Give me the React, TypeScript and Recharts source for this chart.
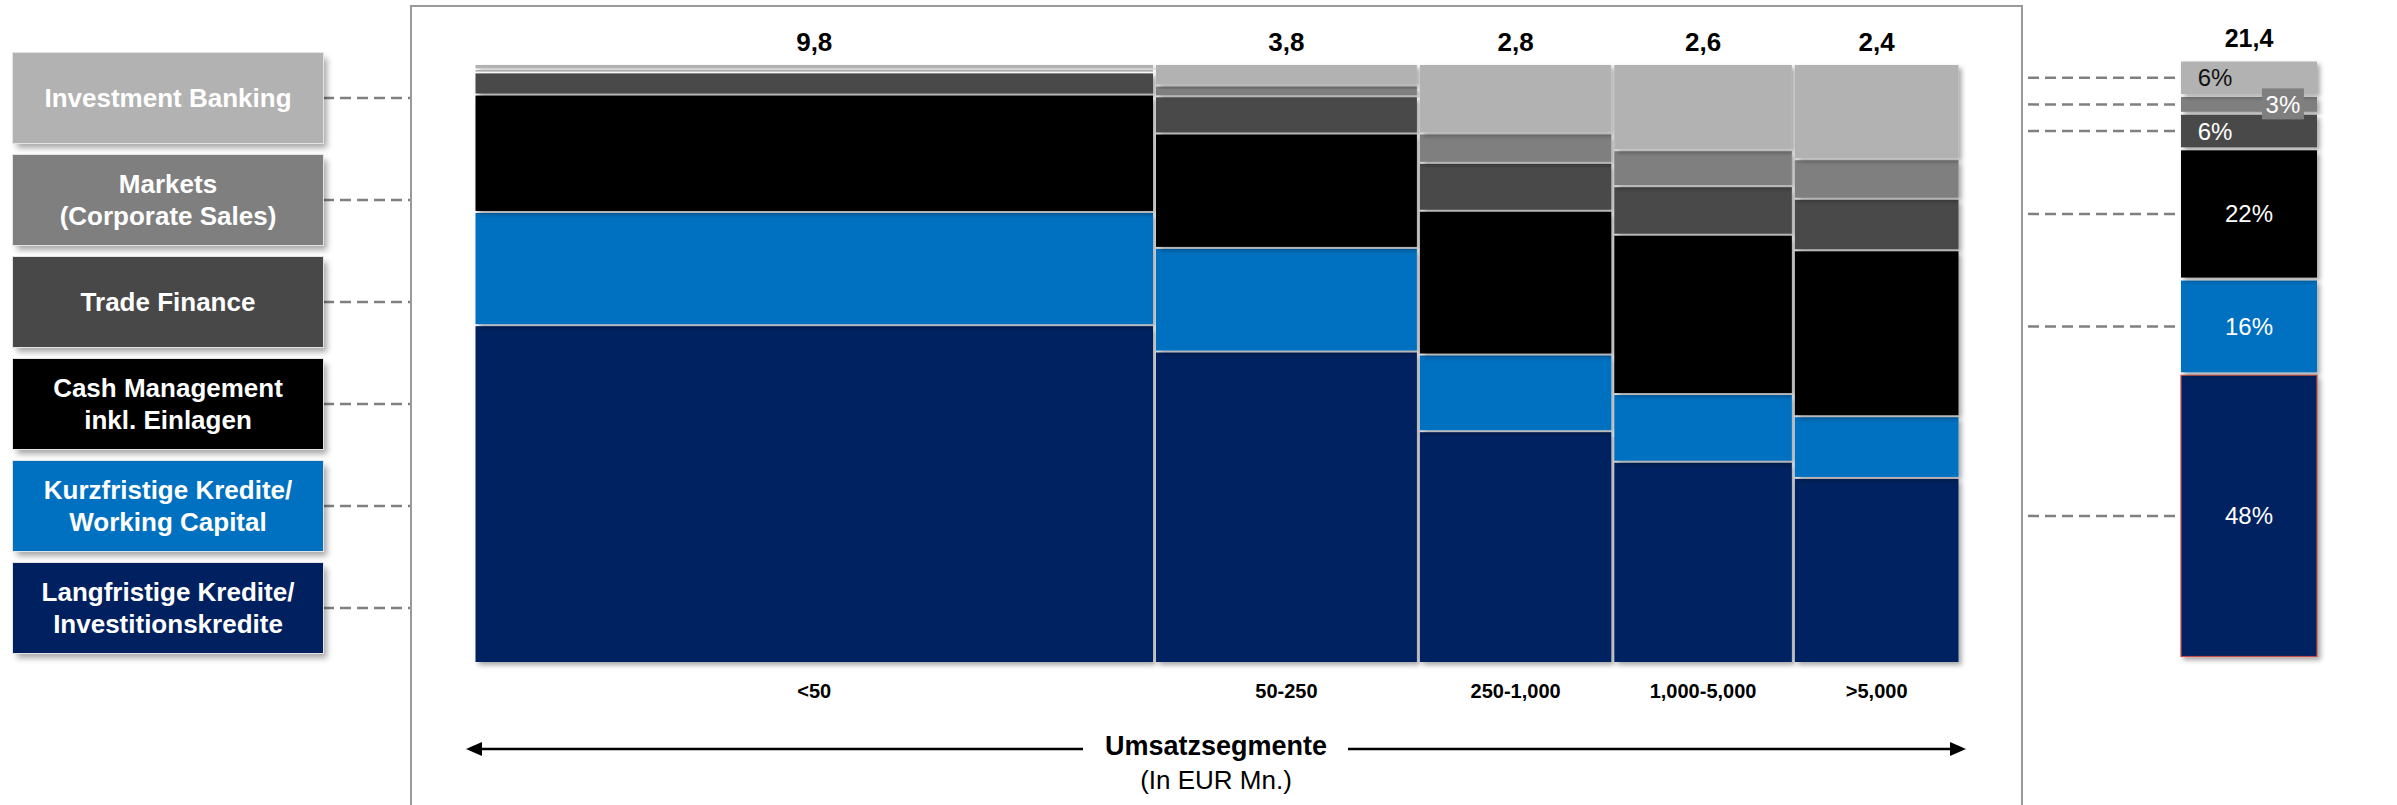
import React from 'react';
import {
  ComposedChart,
  BarChart,
  Bar,
  Line,
  XAxis,
  YAxis,
  ReferenceArea,
  LabelList,
} from 'recharts';

const FONT = '"Liberation Sans", Arial, Helvetica, sans-serif';

// Geschäftsfelder, von unten nach oben gestapelt
const segmentKeys = ['lk', 'kk', 'cm', 'tf', 'mk', 'ib'];
const segmentNames = [
  ['Langfristige Kredite/', 'Investitionskredite'],
  ['Kurzfristige Kredite/', 'Working Capital'],
  ['Cash Management', 'inkl. Einlagen'],
  ['Trade Finance'],
  ['Markets', '(Corporate Sales)'],
  ['Investment Banking'],
];
const segmentColors = ['#002060', '#0070C0', '#000000', '#484848', '#7F7F7F', '#B2B2B2'];

// Umsatzsegmente (in EUR Mn.) und Ertragsvolumen je Segment
const categories = ['<50', '50-250', '250-1,000', '1,000-5,000', '>5,000'];
const columnTotals = [9.8, 3.8, 2.8, 2.6, 2.4];

// Anteile je Geschäftsfeld in % des Segments
const shareLangfristig = [56.4, 52.0, 38.7, 33.6, 30.9];
const shareKurzfristig = [18.9, 17.3, 12.8, 11.3, 10.3];
const shareCashManagement = [19.6, 19.1, 24.0, 26.6, 27.7];
const shareTradeFinance = [3.7, 6.2, 8.0, 8.1, 8.6];
const shareMarkets = [0.5, 1.8, 4.9, 6.0, 6.6];
const shareInvestmentBanking = [0.9, 3.6, 11.6, 14.4, 15.9];
const segmentShares = [
  shareLangfristig,
  shareKurzfristig,
  shareCashManagement,
  shareTradeFinance,
  shareMarkets,
  shareInvestmentBanking,
];

// Gesamtbetrachtung
const grandTotal = 21.4;
const totalShares = [48, 16, 22, 6, 3, 6];

const fmt = (v: number) => v.toFixed(1).replace('.', ',');

// column layout on a value axis: each column is as wide as its volume
const columns = categories.map((name, i) => {
  const start = columnTotals.slice(0, i).reduce((a, b) => a + b, 0);
  return { name, start, end: start + columnTotals[i], mid: start + columnTotals[i] / 2, total: columnTotals[i], full: 100 };
});

const tiles = columns.flatMap((col, ci) => {
  let acc = 0;
  return segmentShares.map((shares, si) => {
    const y1 = acc;
    acc += shares[ci];
    return { key: `${ci}-${si}`, x1: col.start, x2: col.end, y1, y2: acc, fill: segmentColors[si], top: si === segmentShares.length - 1, col };
  });
});

const totalRow = [
  Object.fromEntries([['name', 'Gesamt'], ...segmentKeys.map((k, i) => [k, totalShares[i]])]),
];

const tileShape = (p: any) => {
  const { x, y, width, height, fill } = p;
  return (
    <rect
      x={x + 1.5}
      y={y + 1}
      width={Math.max(width - 3, 0)}
      height={Math.max(height - 2, 0)}
      fill={fill}
      filter="url(#tileShadow)"
    />
  );
};

const totalBarShape = (si: number) => (p: any) => {
  const { x, y, width, height, fill } = p;
  return (
    <rect
      x={x}
      y={y + 1.5}
      width={width}
      height={Math.max(height - 3, 0)}
      fill={fill}
      stroke={si === 0 ? '#C0504D' : 'none'}
      strokeWidth={si === 0 ? 1.2 : 0}
      filter="url(#tileShadow)"
    />
  );
};

const totalLabel = (si: number) => (p: any) => {
  const { x, y, width, height, value } = p;
  const cy = y + height / 2;
  const connector = (
    <line x1={x - 153} x2={x - 2} y1={cy} y2={cy} stroke="#808080" strokeWidth={2.5} strokeDasharray="11 6" />
  );
  const txt = `${value}%`;
  if (si === 5) {
    return (
      <g>
        {connector}
        <text x={x + width * 0.25} y={cy} textAnchor="middle" dominantBaseline="central" fill="#111" fontSize={24} fontFamily={FONT}>
          {txt}
        </text>
        <text x={x + width / 2} y={y - 13} textAnchor="middle" fill="#000" fontSize={25} fontWeight={700} fontFamily={FONT}>
          {fmt(grandTotal)}
        </text>
      </g>
    );
  }
  if (si === 4) {
    return (
      <g>
        {connector}
        <rect x={x + width * 0.595} y={cy - 16} width={42} height={31} fill="#7F7F7F" />
        <text x={x + width * 0.595 + 21} y={cy} textAnchor="middle" dominantBaseline="central" fill="#fff" fontSize={24} fontFamily={FONT}>
          {txt}
        </text>
      </g>
    );
  }
  const lx = si === 3 ? x + width * 0.25 : x + width / 2;
  return (
    <g>
      {connector}
      <text x={lx} y={cy} textAnchor="middle" dominantBaseline="central" fill="#fff" fontSize={24} fontFamily={FONT}>
        {txt}
      </text>
    </g>
  );
};

const tickLabel = (v: number) => {
  const col = columns.find((c) => Math.abs(c.mid - v) < 1e-6);
  return col ? col.name : '';
};

export default function App() {
  const boxOrder = [5, 4, 3, 2, 1, 0];
  return (
    <div style={{ position: 'absolute', left: 0, top: 0, width: 2397, height: 805, overflow: 'hidden', background: '#fff', fontFamily: FONT }}>
      <svg width={0} height={0} style={{ position: 'absolute' }}>
        <defs>
          <filter id="tileShadow" x="-10%" y="-10%" width="130%" height="130%">
            <feDropShadow dx={3} dy={3} stdDeviation={2.5} floodColor="#000" floodOpacity={0.35} />
          </filter>
        </defs>
      </svg>

      {/* legend boxes with connectors */}
      <svg width={420} height={700} style={{ position: 'absolute', left: 0, top: 0 }}>
        {boxOrder.map((si, i) => (
          <line key={si} x1={323} x2={412} y1={98 + i * 102} y2={98 + i * 102} stroke="#808080" strokeWidth={2.5} strokeDasharray="11 6" />
        ))}
      </svg>
      {boxOrder.map((si, i) => (
        <div
          key={si}
          style={{
            position: 'absolute',
            left: 13,
            top: 53 + i * 102,
            width: 310,
            height: 90,
            background: segmentColors[si],
            color: '#fff',
            fontWeight: 700,
            fontSize: 26,
            lineHeight: '32px',
            display: 'flex',
            flexDirection: 'column',
            alignItems: 'center',
            justifyContent: 'center',
            textAlign: 'center',
            boxShadow: '4px 5px 6px rgba(0,0,0,0.35)',
            outline: '1px solid #e4e4e4',
          }}
        >
          {segmentNames[si].map((line) => (
            <div key={line}>{line}</div>
          ))}
        </div>
      ))}

      {/* frame */}
      <div style={{ position: 'absolute', left: 410, top: 5, width: 1613, height: 900, border: '2px solid #9A9A9A', boxSizing: 'border-box' }} />

      {/* Marimekko */}
      <div style={{ position: 'absolute', left: 411, top: 0 }}>
        <ComposedChart width={1611} height={740} data={columns} margin={{ top: 64, right: 62, bottom: 37, left: 63 }}>
          <XAxis
            type="number"
            dataKey="mid"
            domain={[0, grandTotal]}
            ticks={columns.map((c) => c.mid)}
            interval={0}
            tickFormatter={tickLabel}
            axisLine={false}
            tickLine={false}
            tickSize={0}
            tickMargin={21}
            height={40}
            allowDataOverflow
            tick={{ fill: '#000', fontSize: 20, fontWeight: 700, fontFamily: FONT }}
          />
          <YAxis type="number" domain={[0, 100]} allowDataOverflow hide />
          <Line dataKey="full" stroke="none" dot={false} activeDot={false} isAnimationActive={false} legendType="none" />
          {tiles.map((t) => (
            <ReferenceArea
              key={t.key}
              x1={t.x1}
              x2={t.x2}
              y1={t.y1}
              y2={t.y2}
              fill={t.fill}
              fillOpacity={1}
              stroke="none"
              ifOverflow="visible"
              shape={tileShape}
              label={
                t.top
                  ? { value: fmt(t.col.total), position: 'top', offset: 13, fill: '#000', fontSize: 26, fontWeight: 700, fontFamily: FONT }
                  : undefined
              }
            />
          ))}
        </ComposedChart>
      </div>

      {/* total column */}
      <div style={{ position: 'absolute', left: 2020, top: 0 }}>
        <BarChart width={377} height={700} data={totalRow} margin={{ top: 60, right: 80, bottom: 42, left: 161 }} barCategoryGap={0}>
          <XAxis dataKey="name" hide />
          <YAxis type="number" domain={[0, 101]} hide />
          {segmentKeys.map((k, si) => (
            <Bar key={k} dataKey={k} stackId="total" fill={segmentColors[si]} isAnimationActive={false} shape={totalBarShape(si)}>
              <LabelList dataKey={k} content={totalLabel(si)} />
            </Bar>
          ))}
        </BarChart>
      </div>

      {/* axis caption with arrow */}
      <svg width={2397} height={805} style={{ position: 'absolute', left: 0, top: 0, pointerEvents: 'none' }}>
        <line x1={478} x2={1083} y1={749} y2={749} stroke="#000" strokeWidth={2.5} />
        <polygon points="466,749 482,742 482,756" fill="#000" />
        <line x1={1348} x2={1954} y1={749} y2={749} stroke="#000" strokeWidth={2.5} />
        <polygon points="1966,749 1950,742 1950,756" fill="#000" />
        <text x={1216} y={755} textAnchor="middle" fontSize={27} fontWeight={700} fontFamily={FONT} fill="#000">
          Umsatzsegmente
        </text>
        <text x={1216} y={789} textAnchor="middle" fontSize={26} fontFamily={FONT} fill="#000">
          (In EUR Mn.)
        </text>
      </svg>
    </div>
  );
}
